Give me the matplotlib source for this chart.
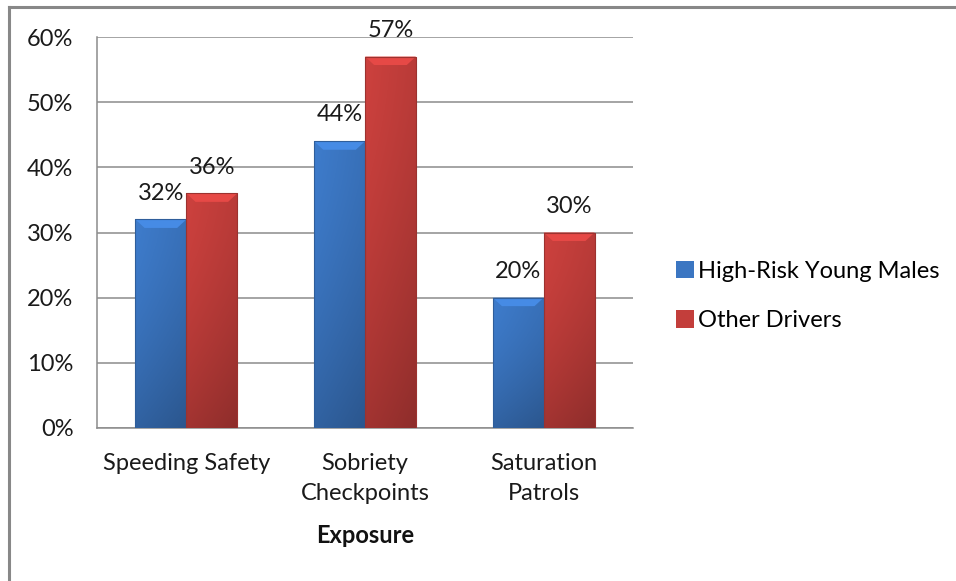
import matplotlib
matplotlib.use("Agg")
import matplotlib.pyplot as plt
import numpy as np
from matplotlib.colors import to_rgb
from matplotlib.ticker import PercentFormatter

categories = ["Speeding Safety", "Sobriety\nCheckpoints", "Saturation\nPatrols"]
series_names = ["High-Risk Young Males", "Other Drivers"]
high_risk = [32, 44, 20]
other = [36, 57, 30]
labels_high = ["32%", "44%", "20%"]
labels_other = ["36%", "57%", "30%"]

plt.rcParams['font.family'] = ['Lato', 'DejaVu Sans']
FS = 17

W, H = 956, 581
fig = plt.figure(figsize=(W / 100, H / 100), dpi=100)
fig.patch.set_facecolor("white")

ax = fig.add_axes([97 / W, (H - 428) / H, 536 / W, 391 / H])

x = np.arange(len(categories))
bw = 0.285
colors = ["#3B76C2", "#C33E3B"]
b1 = ax.bar(x - bw / 2, high_risk, bw, color=colors[0], label=series_names[0], zorder=3)
b2 = ax.bar(x + bw / 2, other, bw, color=colors[1], label=series_names[1], zorder=3)


def gradient_fill(bars, base):
    r, g, b = to_rgb(base)
    base = np.array([r, g, b])
    for p in bars:
        x0, y0 = p.get_x(), p.get_y()
        w, h = p.get_width(), p.get_height()
        ny, nx = 200, 60
        xs = np.linspace(0, 1, nx)
        ys = np.linspace(0, 1, ny)  # 0 top, 1 bottom
        X, Y = np.meshgrid(xs, ys)
        f = 1.0 + 0.10 * (0.5 - X) - 0.22 * Y ** 1.5
        img = np.clip(base[None, None, :] * f[..., None], 0, 1)
        im = ax.imshow(img, extent=[x0, x0 + w, y0, y0 + h], aspect='auto',
                       zorder=3.5, interpolation='bilinear')
        im.set_clip_path(p)
        bev_h = min(h, 1.3)
        top = np.clip(base * 1.18, 0, 1)
        ax.fill([x0, x0 + w, x0 + w * 0.82, x0 + w * 0.18],
                [y0 + h, y0 + h, y0 + h - bev_h, y0 + h - bev_h],
                color=top, zorder=3.6, lw=0)
        ax.plot([x0, x0, x0 + w, x0 + w], [y0, y0 + h, y0 + h, y0],
                color=np.clip(base * 0.8, 0, 1), lw=0.8, zorder=3.7)


gradient_fill(b1, colors[0])
gradient_fill(b2, colors[1])

for bars, labs in ((b1, labels_high), (b2, labels_other)):
    for p, lab in zip(bars, labs):
        ax.annotate(lab, (p.get_x() + p.get_width() / 2, p.get_height()),
                    xytext=(0, 19), textcoords="offset points",
                    ha="center", va="center", fontsize=FS, color="#1a1a1a", zorder=5)

ax.set_xlim(-0.5, 2.5)
ax.set_ylim(0, 60)
ax.set_yticks(np.arange(0, 61, 10))
ax.yaxis.set_major_formatter(PercentFormatter(decimals=0))
ax.set_xticks(x)
ax.set_xticklabels(categories, fontsize=FS, linespacing=1.55)
ax.tick_params(axis='y', length=0, pad=17, labelsize=FS, labelcolor="#1a1a1a")
ax.tick_params(axis='x', length=0, pad=18, labelsize=FS, labelcolor="#1a1a1a")
ax.grid(axis='y', color="#8c8c8c", lw=1.1, zorder=0)
ax.set_axisbelow(True)
for s in ("top", "right"):
    ax.spines[s].set_visible(False)
for s in ("left", "bottom"):
    ax.spines[s].set_color("#8c8c8c")
    ax.spines[s].set_linewidth(1.1)

ax.set_xlabel("Exposure", fontsize=FS, fontweight="bold", labelpad=14, color="#111111")

leg = fig.legend(handles=[b1, b2], labels=series_names, loc="center left",
                 bbox_to_anchor=(676 / W, 1 - 296 / H), frameon=False,
                 borderpad=0, borderaxespad=0,
                 fontsize=FS, handlelength=0.75, handleheight=0.75,
                 handletextpad=0.2, labelspacing=1.2)

# outer border (top and left only)
fig.add_artist(plt.Line2D([9 / W, 1], [1 - 7 / H, 1 - 7 / H], color="#888888", lw=2.2,
                          transform=fig.transFigure))
fig.add_artist(plt.Line2D([9 / W, 9 / W], [0, 1 - 7 / H], color="#888888", lw=2.2,
                          transform=fig.transFigure))

fig.savefig("out.png", dpi=100, facecolor="white")
